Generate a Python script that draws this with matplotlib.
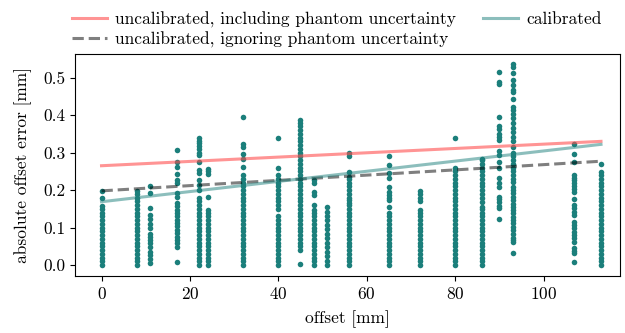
#! /usr/bin/env python3

import matplotlib
matplotlib.use('Agg')
import matplotlib.pyplot as plt

plt.rcParams['font.family'] = 'serif'
plt.rcParams['font.serif'] = ['cmr10']
plt.rcParams['mathtext.fontset'] = 'cm'
plt.rcParams['axes.unicode_minus'] = False
plt.rcParams['axes.formatter.use_mathtext'] = True
plt.rcParams['font.size'] = 12.5

# measured errors per phantom offset [mm]
offsets = [0, 8, 11, 17, 22, 24, 32, 40, 45, 48, 51, 56, 65, 72, 80, 86, 90, 93, 107, 113]

err_0 = [0.00, 0.01, 0.02, 0.03, 0.04, 0.05, 0.06, 0.07, 0.08, 0.09, 0.10,
         0.11, 0.12, 0.13, 0.14, 0.15, 0.157, 0.178, 0.198]
err_8 = [0.00, 0.01, 0.02, 0.03, 0.04, 0.05, 0.06, 0.07, 0.08, 0.09, 0.10,
         0.11, 0.12, 0.13, 0.14, 0.15, 0.16, 0.17, 0.18, 0.19, 0.197]
err_11 = [0.005, 0.016, 0.027, 0.036, 0.049, 0.058, 0.067, 0.076, 0.084,
          0.098, 0.109, 0.122, 0.133, 0.151, 0.191, 0.211]
err_17 = [0.009, 0.049, 0.058, 0.067, 0.076, 0.085, 0.094, 0.103, 0.112,
          0.121, 0.130, 0.139, 0.148, 0.157, 0.165, 0.181, 0.192, 0.218,
          0.227, 0.243, 0.262, 0.276, 0.307]
err_22 = [0.00, 0.01, 0.02, 0.03, 0.04, 0.05, 0.06, 0.07, 0.08, 0.09, 0.10,
          0.11, 0.12, 0.13, 0.14, 0.15, 0.16, 0.17, 0.18, 0.200, 0.213,
          0.227, 0.246, 0.253, 0.276, 0.293, 0.300, 0.310, 0.318, 0.325,
          0.332, 0.338]
err_24 = [0.00, 0.01, 0.02, 0.03, 0.04, 0.05, 0.06, 0.07, 0.08, 0.09, 0.10,
          0.11, 0.12, 0.13, 0.14, 0.147, 0.182, 0.243, 0.250, 0.256]
err_32 = [0.00, 0.01, 0.02, 0.03, 0.04, 0.05, 0.06, 0.07, 0.08, 0.09, 0.10,
          0.11, 0.12, 0.13, 0.14, 0.15, 0.16, 0.17, 0.18, 0.19, 0.20, 0.21,
          0.22, 0.23, 0.240, 0.262, 0.282, 0.295, 0.316, 0.324, 0.394]
err_40 = [0.00, 0.01, 0.02, 0.03, 0.04, 0.05, 0.06, 0.07, 0.08, 0.09, 0.10,
          0.11, 0.12, 0.13, 0.15, 0.16, 0.17, 0.18, 0.19, 0.20, 0.21, 0.22,
          0.23, 0.24, 0.260, 0.338]
err_45 = [0.003, 0.04, 0.05, 0.06, 0.07, 0.08, 0.09, 0.10, 0.11, 0.12, 0.13,
          0.14, 0.15, 0.16, 0.17, 0.18, 0.19, 0.20, 0.21, 0.22, 0.23, 0.24,
          0.25, 0.26, 0.27, 0.28, 0.29, 0.30, 0.31, 0.32, 0.33, 0.34, 0.35,
          0.36, 0.37, 0.38, 0.387]
err_48 = [0.00, 0.01, 0.02, 0.03, 0.04, 0.05, 0.06, 0.07, 0.08, 0.09, 0.10,
          0.11, 0.12, 0.13, 0.14, 0.147, 0.160, 0.187, 0.195, 0.218, 0.227]
err_51 = [0.00, 0.012, 0.024, 0.036, 0.048, 0.060, 0.072, 0.084, 0.096,
          0.108, 0.120, 0.130, 0.142, 0.154]
err_56 = [0.00, 0.01, 0.02, 0.03, 0.04, 0.05, 0.06, 0.07, 0.08, 0.09, 0.10,
          0.11, 0.12, 0.13, 0.14, 0.15, 0.16, 0.165, 0.173, 0.18, 0.19, 0.20,
          0.21, 0.22, 0.23, 0.236, 0.249, 0.291, 0.298]
err_65 = [0.00, 0.01, 0.02, 0.03, 0.04, 0.05, 0.06, 0.07, 0.08, 0.09, 0.10,
          0.11, 0.12, 0.13, 0.138, 0.156, 0.173, 0.180, 0.187, 0.195, 0.209,
          0.231, 0.246, 0.267, 0.291]
err_72 = [0.00, 0.01, 0.02, 0.03, 0.04, 0.05, 0.06, 0.07, 0.08, 0.09, 0.10,
          0.11, 0.12, 0.13, 0.14, 0.147, 0.170, 0.180, 0.190, 0.198]
err_80 = [0.00, 0.01, 0.02, 0.03, 0.04, 0.05, 0.06, 0.07, 0.08, 0.09, 0.10,
          0.11, 0.12, 0.13, 0.14, 0.15, 0.16, 0.17, 0.18, 0.19, 0.20, 0.21,
          0.22, 0.23, 0.24, 0.25, 0.26, 0.338]
err_86 = [0.00, 0.01, 0.02, 0.03, 0.04, 0.05, 0.06, 0.07, 0.08, 0.09, 0.10,
          0.11, 0.12, 0.13, 0.14, 0.15, 0.156, 0.169, 0.18, 0.19, 0.20, 0.21,
          0.22, 0.23, 0.24, 0.25, 0.26, 0.27, 0.28, 0.284]
err_90 = [0.122, 0.151, 0.158, 0.167, 0.175, 0.182, 0.209, 0.219, 0.233,
          0.258, 0.276, 0.293, 0.305, 0.333, 0.341, 0.349, 0.363, 0.371,
          0.394, 0.482, 0.489, 0.514]
err_93 = [0.031, 0.062, 0.066, 0.073, 0.084, 0.093, 0.102, 0.111, 0.120,
          0.129, 0.138, 0.147, 0.156, 0.164, 0.173, 0.182, 0.191, 0.200,
          0.209, 0.222, 0.23, 0.24, 0.25, 0.26, 0.27, 0.28, 0.29, 0.30, 0.315,
          0.331, 0.342, 0.356, 0.366, 0.380, 0.391, 0.402, 0.413, 0.422,
          0.444, 0.462, 0.468, 0.480, 0.493, 0.511, 0.529, 0.536]
err_107 = [0.009, 0.032, 0.038, 0.045, 0.062, 0.071, 0.080, 0.089, 0.098,
           0.107, 0.116, 0.133, 0.142, 0.151, 0.160, 0.176, 0.196, 0.204,
           0.212, 0.219, 0.227, 0.233, 0.240, 0.276, 0.295, 0.322]
err_113 = [0.00, 0.01, 0.02, 0.03, 0.04, 0.05, 0.06, 0.07, 0.08, 0.09, 0.10,
           0.11, 0.12, 0.13, 0.14, 0.15, 0.16, 0.17, 0.18, 0.19, 0.20, 0.21,
           0.22, 0.23, 0.24, 0.249, 0.269]

errors = [err_0, err_8, err_11, err_17, err_22, err_24, err_32, err_40, err_45,
          err_48, err_51, err_56, err_65, err_72, err_80, err_86, err_90,
          err_93, err_107, err_113]

# linear fits
fit_x = [0, 113]
fit_uncal_incl = [0.265, 0.330]
fit_uncal_ign = [0.198, 0.277]
fit_cal = [0.169, 0.322]

fig = plt.figure(figsize=(6.25, 3.33), dpi=100)
ax = fig.add_axes([0.12, 0.1712, 0.872, 0.6667])

for off, errs in zip(offsets, errors):
    ax.scatter([off] * len(errs), errs, s=16, color='#1b7f7b',
               linewidths=0, zorder=2)

ax.plot(fit_x, fit_uncal_incl, color='#ff4d4d', alpha=0.6, lw=2.2,
        zorder=3, label='uncalibrated, including phantom uncertainty')
ax.plot(fit_x, fit_uncal_ign, color='k', alpha=0.5, lw=2.2, ls='--',
        zorder=3, label='uncalibrated, ignoring phantom uncertainty')
ax.plot(fit_x, fit_cal, color='#1b7f7b', alpha=0.5, lw=2.2,
        zorder=3, label='calibrated')

ax.set_xlim(-6.0, 117.3)
ax.set_ylim(-0.029, 0.563)
ax.set_xticks([0, 20, 40, 60, 80, 100])
ax.set_yticks([0.0, 0.1, 0.2, 0.3, 0.4, 0.5])
ax.set_yticklabels(['0.0', '0.1', '0.2', '0.3', '0.4', '0.5'])
ax.set_xlabel('offset [mm]', labelpad=6.5)
ax.set_ylabel('absolute offset error [mm]', labelpad=8)

fig.legend(loc='upper left', bbox_to_anchor=(0.09, 1.012), ncol=2,
           frameon=False, handlelength=2.0, handletextpad=0.5,
           columnspacing=1.55, labelspacing=0.2)

fig.savefig('out.png', dpi=100)
